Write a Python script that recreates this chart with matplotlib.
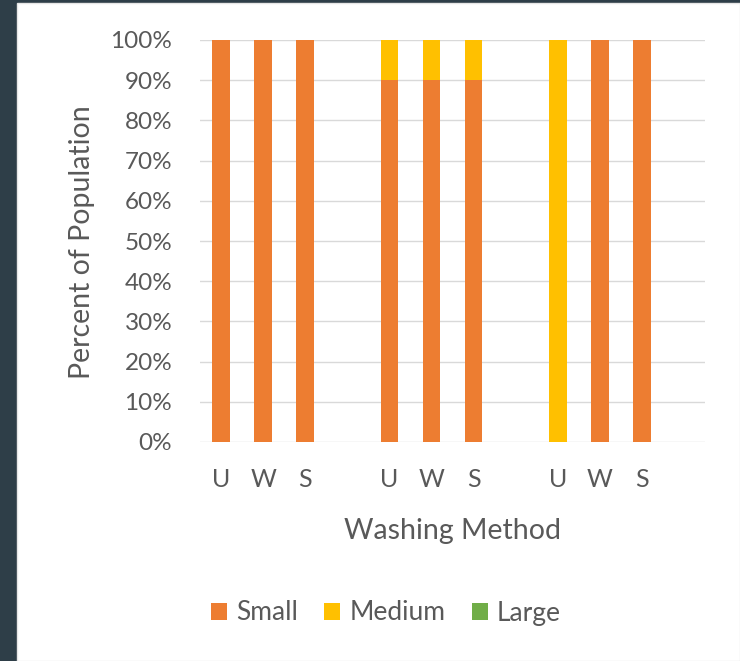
import matplotlib
matplotlib.use("Agg")
import matplotlib.pyplot as plt
from matplotlib.patches import Rectangle, Patch
import numpy as np

# Categories: three washing-method groups, each followed by an empty slot
categories = ["U", "W", "S", "", "U", "W", "S", "", "U", "W", "S", ""]
small = [100, 100, 100, 0, 90, 90, 90, 0, 0, 100, 100, 0]
medium = [0, 0, 0, 0, 10, 10, 10, 0, 100, 0, 0, 0]
large = [0, 0, 0, 0, 0, 0, 0, 0, 0, 0, 0, 0]
y_ticks = [0, 10, 20, 30, 40, 50, 60, 70, 80, 90, 100]

series_names = ["Small", "Medium", "Large"]
series_colors = ["#ED7D31", "#FFC000", "#70AD47"]
text_color = "#595959"
font = "Lato"

fig = plt.figure(figsize=(7.4, 6.61), dpi=100)
fig.patch.set_facecolor("#2E3E48")
# white card
fig.add_artist(Rectangle((17 / 740, 0), 1 - 17 / 740, 1 - 3 / 661,
                         transform=fig.transFigure, facecolor="white",
                         edgecolor="#E6E6E6", lw=1, zorder=0))

ax = fig.add_axes([200 / 740, 1 - 442 / 661, 505 / 740, (442 - 40) / 661])
ax.set_facecolor("none")

x = np.arange(len(categories))
bottom = np.zeros(len(categories))
for vals, col in zip([small, medium, large], series_colors):
    v = np.array(vals, dtype=float)
    ax.bar(x, v, bottom=bottom, width=0.42, color=col, zorder=3)
    bottom += v

ax.set_xlim(-0.5, len(categories) - 0.5)
ax.set_ylim(0, 100)
ax.set_yticks(y_ticks)
ax.set_yticklabels([f"{t}%" for t in y_ticks])
ax.set_xticks(x)
ax.set_xticklabels(categories)
ax.grid(axis="y", color="#D9D9D9", lw=1, zorder=0)
ax.set_axisbelow(True)
for s in ["top", "right", "left", "bottom"]:
    ax.spines[s].set_visible(False)
ax.tick_params(axis="both", length=0, colors=text_color)
ax.tick_params(axis="y", pad=20, labelsize=17.5)
ax.tick_params(axis="x", pad=19, labelsize=18)
for lab in ax.get_xticklabels() + ax.get_yticklabels():
    lab.set_fontfamily(font)

fig.text(82 / 740, 1 - 242 / 661, "Percent of Population", rotation=90,
         ha="center", va="center", fontsize=20.5, color=text_color, family=font)
fig.text(452 / 740, 1 - 531 / 661, "Washing Method",
         ha="center", va="center", fontsize=20.5, color=text_color, family=font)

handles = [Patch(facecolor=c, label=n) for n, c in zip(series_names, series_colors)]
fig.legend(handles=handles, loc="center", bbox_to_anchor=(386 / 740, 1 - 613 / 661),
           ncol=3, frameon=False, handlelength=0.6, handleheight=0.6,
           handletextpad=0.35, columnspacing=1.0,
           prop={"family": font, "size": 19}, labelcolor=text_color)

fig.savefig("out.png", dpi=100, facecolor=fig.get_facecolor())
